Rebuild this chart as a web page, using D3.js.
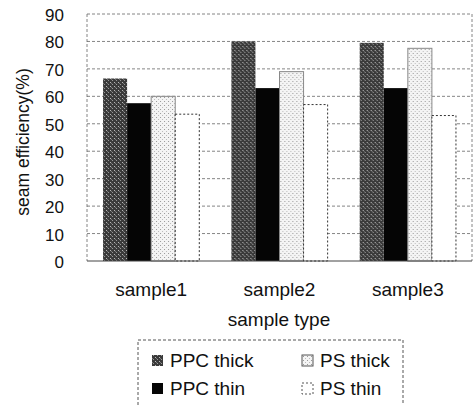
<!DOCTYPE html>
<html>
<head>
<meta charset="utf-8">
<script src="https://cdn.jsdelivr.net/npm/d3@7"></script>
<style>
  body { margin: 0; background: #fff; }
  text { font-family: "Liberation Sans", Arial, sans-serif; fill: #111; }
</style>
</head>
<body>
<div id="main"></div>
<script>
var ctx = {
    w: 476,
    h: 405,
    left: 87,
    right: 472,
    top: 14,
    bottom: 261
};

// values
var categories = ["sample1", "sample2", "sample3"];
var seriesNames = ["PPC thick", "PPC thin", "PS thick", "PS thin"];
var ppcThick = [66.5, 80, 79.5];
var ppcThin = [57.5, 63, 63];
var psThick = [60, 69, 77.5];
var psThin = [53.5, 57, 53];
var yTicks = [0, 10, 20, 30, 40, 50, 60, 70, 80, 90];

var seriesValues = [ppcThick, ppcThin, psThick, psThin];
var fills = ["url(#darkDots)", "#050505", "url(#lightDots)", "#fff"];
var strokes = ["none", "none", "#888", "#333"];
var dashes = [null, null, null, "2,2"];

var svg = d3.select("#main").append("svg")
    .attr("width", ctx.w)
    .attr("height", ctx.h);

// stipple patterns
var defs = svg.append("defs");
var dark = defs.append("pattern").attr("id", "darkDots")
    .attr("width", 4).attr("height", 4).attr("patternUnits", "userSpaceOnUse");
dark.append("rect").attr("width", 4).attr("height", 4).attr("fill", "#3a3a3a");
dark.append("rect").attr("x", 1).attr("y", 0).attr("width", 1).attr("height", 1).attr("fill", "#9a9a9a");
dark.append("rect").attr("x", 3).attr("y", 2).attr("width", 1).attr("height", 1).attr("fill", "#bbb");
dark.append("rect").attr("x", 0).attr("y", 3).attr("width", 1).attr("height", 1).attr("fill", "#777");
var light = defs.append("pattern").attr("id", "lightDots")
    .attr("width", 4).attr("height", 4).attr("patternUnits", "userSpaceOnUse");
light.append("rect").attr("width", 4).attr("height", 4).attr("fill", "#f4f4f4");
light.append("rect").attr("x", 1).attr("y", 1).attr("width", 1).attr("height", 1).attr("fill", "#999");
light.append("rect").attr("x", 3).attr("y", 3).attr("width", 1).attr("height", 1).attr("fill", "#bbb");

var y = d3.scaleLinear().domain([0, 90]).range([ctx.bottom, ctx.top]);
var x0 = d3.scaleBand().domain(categories).range([ctx.left, ctx.right]).paddingInner(0.25).paddingOuter(0.125);
var x1 = d3.scaleBand().domain(d3.range(seriesNames.length)).range([0, x0.bandwidth()]);

// gridlines
svg.append("g").selectAll("line")
    .data(yTicks.slice(1))
    .enter()
    .append("line")
    .attr("x1", ctx.left).attr("x2", ctx.right)
    .attr("y1", function(d){ return y(d); })
    .attr("y2", function(d){ return y(d); })
    .style("stroke", "#666")
    .style("stroke-dasharray", "3,2")
    .style("stroke-width", 0.8);

// plot border
svg.append("line").attr("x1", ctx.left).attr("x2", ctx.left).attr("y1", ctx.top).attr("y2", ctx.bottom)
    .style("stroke", "#666").style("stroke-dasharray", "3,2").style("stroke-width", 0.8);
svg.append("line").attr("x1", ctx.right).attr("x2", ctx.right).attr("y1", ctx.top).attr("y2", ctx.bottom)
    .style("stroke", "#666").style("stroke-dasharray", "3,2").style("stroke-width", 0.8);

// bars
var groups = svg.append("g").selectAll("g")
    .data(categories)
    .enter()
    .append("g")
    .attr("transform", function(d){ return "translate(" + x0(d) + ",0)"; });

groups.selectAll("rect")
    .data(function(d, i){ return seriesValues.map(function(s, j){ return {s: j, v: s[i]}; }); })
    .enter()
    .append("rect")
    .attr("x", function(d){ return x1(d.s); })
    .attr("y", function(d){ return y(d.v); })
    .attr("width", x1.bandwidth())
    .attr("height", function(d){ return ctx.bottom - y(d.v); })
    .style("fill", function(d){ return fills[d.s]; })
    .style("stroke", function(d){ return strokes[d.s]; })
    .style("stroke-width", 1)
    .style("stroke-dasharray", function(d){ return dashes[d.s]; });

// x axis line
svg.append("line").attr("x1", ctx.left).attr("x2", ctx.right).attr("y1", ctx.bottom).attr("y2", ctx.bottom)
    .style("stroke", "#444").style("stroke-width", 1);

// y tick labels
svg.append("g").selectAll("text")
    .data(yTicks)
    .enter()
    .append("text")
    .attr("x", 64)
    .attr("y", function(d){ return y(d) + 7; })
    .attr("text-anchor", "end")
    .style("font-size", "17px")
    .text(function(d){ return d; });

// x labels
svg.append("g").selectAll("text")
    .data(categories)
    .enter()
    .append("text")
    .attr("x", function(d){ return x0(d) + x0.bandwidth() / 2; })
    .attr("y", 296)
    .attr("text-anchor", "middle")
    .style("font-size", "19px")
    .text(function(d){ return d; });

svg.append("text")
    .attr("x", 279).attr("y", 326)
    .attr("text-anchor", "middle")
    .style("font-size", "19px")
    .text("sample type");

svg.append("text")
    .attr("transform", "translate(29,142) rotate(-90)")
    .attr("text-anchor", "middle")
    .style("font-size", "17.5px")
    .text("seam efficiency(%)");

// legend
var legend = svg.append("g");
legend.append("rect")
    .attr("x", 138).attr("y", 340).attr("width", 265).attr("height", 70)
    .style("fill", "none").style("stroke", "#555").style("stroke-dasharray", "3,2");
var legendPos = [[152, 367], [152, 395], [302, 367], [302, 395]];
var items = legend.selectAll("g")
    .data(seriesNames)
    .enter()
    .append("g")
    .attr("transform", function(d, i){ return "translate(" + legendPos[i][0] + "," + legendPos[i][1] + ")"; });
items.append("rect")
    .attr("x", 0).attr("y", -12).attr("width", 11).attr("height", 11)
    .style("fill", function(d, i){ return fills[i]; })
    .style("stroke", function(d, i){ return i < 2 ? "none" : "#555"; })
    .style("stroke-dasharray", function(d, i){ return i == 3 ? "2,2" : null; });
items.append("text")
    .attr("x", 18).attr("y", 0)
    .style("font-size", "19px")
    .text(function(d){ return d; });
</script>
</body>
</html>
